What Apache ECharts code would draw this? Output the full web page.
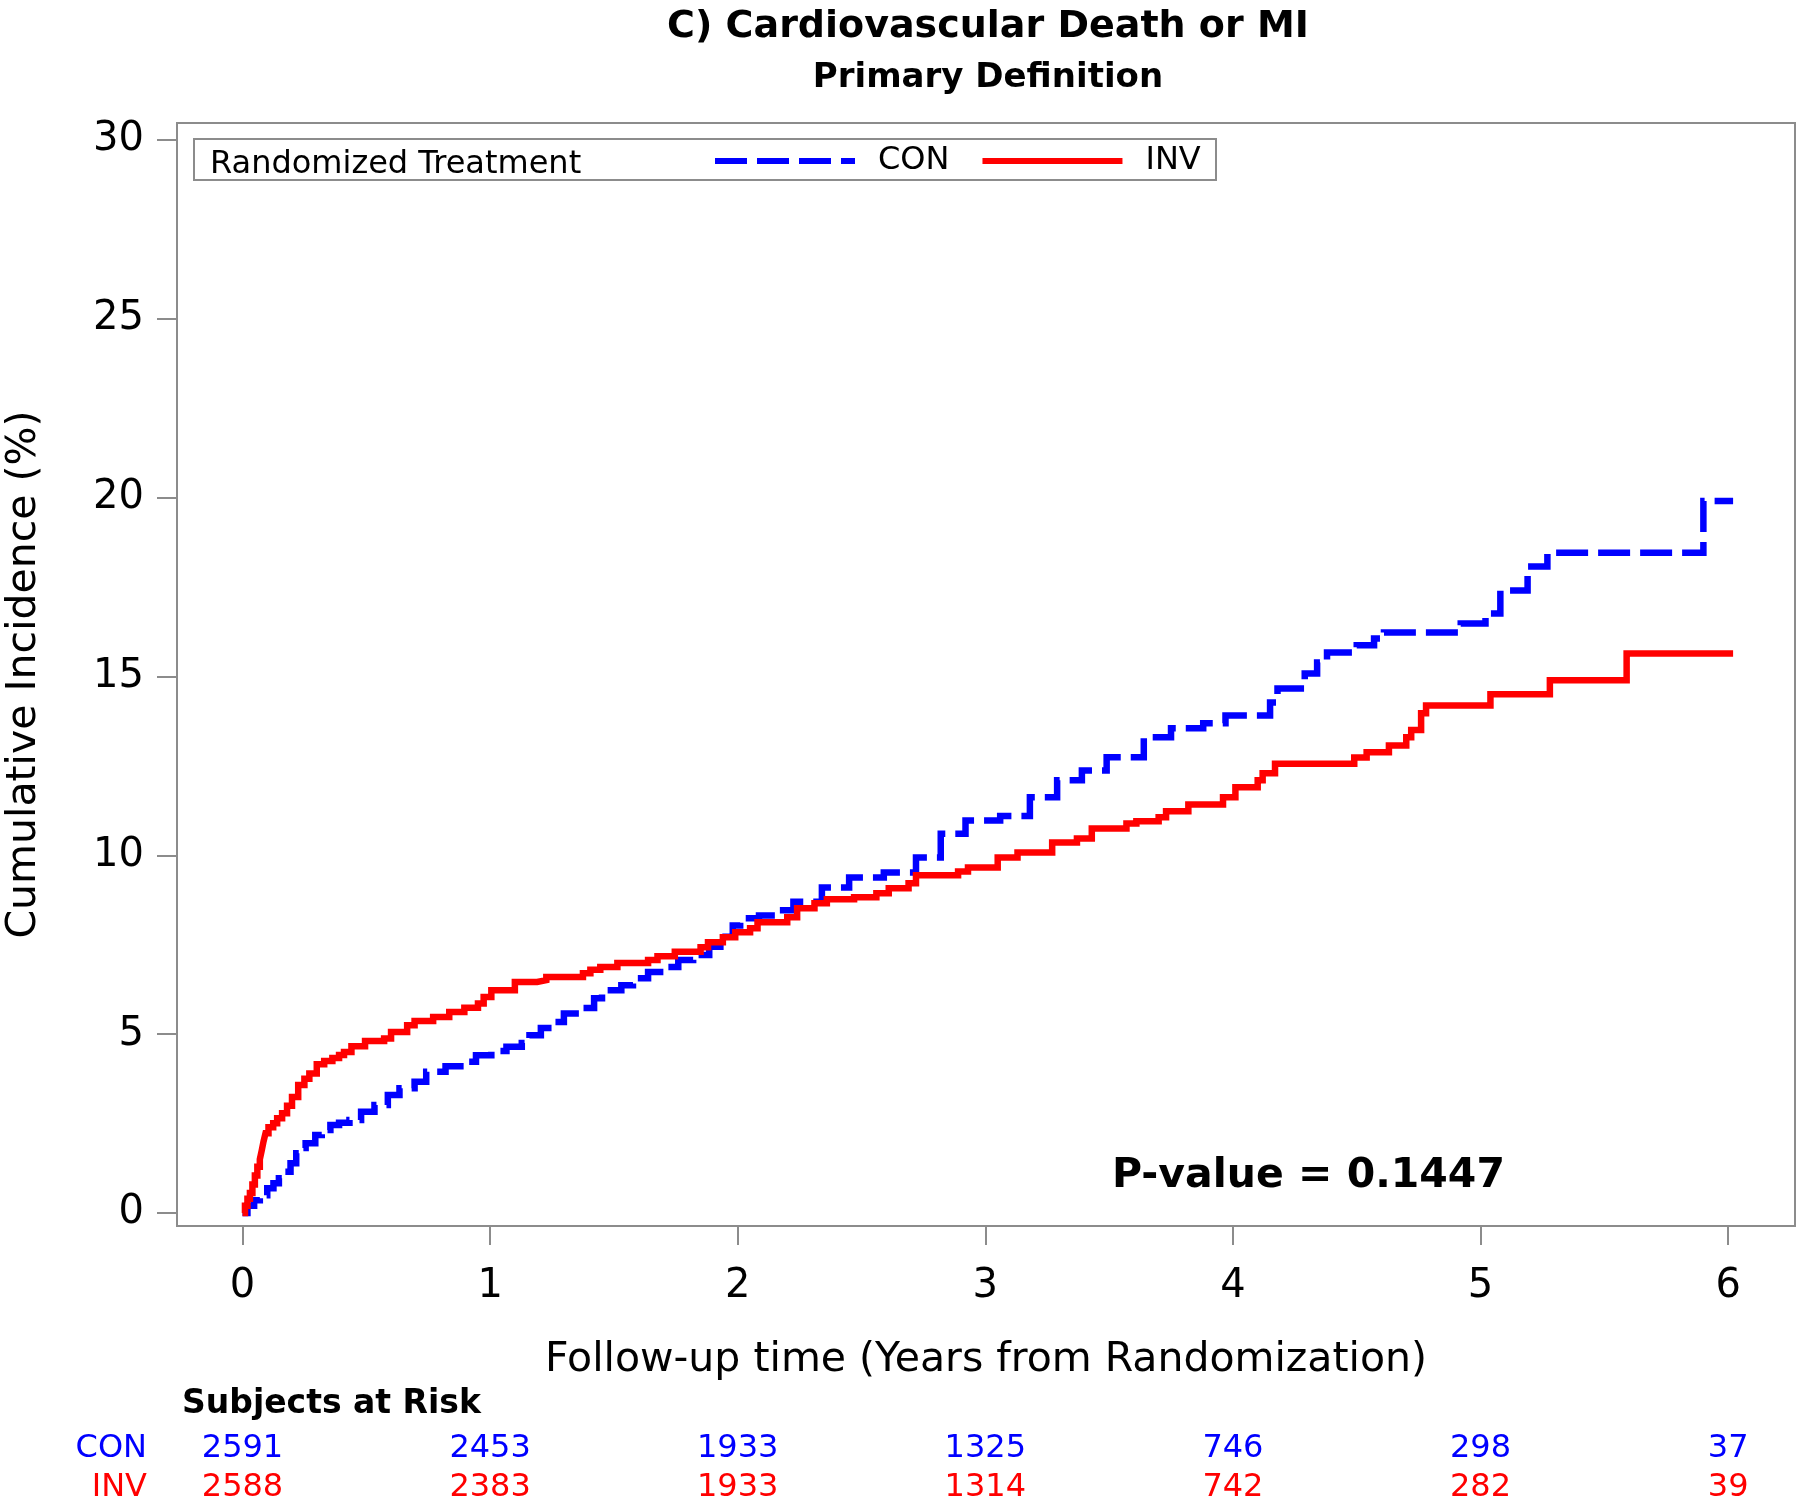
<!DOCTYPE html>
<html><head><meta charset="utf-8">
<script src="https://cdn.jsdelivr.net/npm/echarts@6/dist/echarts.min.js"></script>
<style>html,body{margin:0;padding:0;background:#fff}#c{width:1800px;height:1499px}</style>
</head><body><div id="c"></div>
<script>
const FONT = 'DejaVu Sans';
const BLUE = '#0000ff';
const RED = '#ff0000';
const GRAY = '#8c8c8c';

const xTicks = [0, 1, 2, 3, 4, 5, 6];
const yTicks = [0, 5, 10, 15, 20, 25, 30];
const groups = ['CON', 'INV'];

// CON (control) cumulative incidence, step function (time in years, %)
const conT = [0, 0.02, 0.047, 0.07, 0.10, 0.125, 0.147, 0.17, 0.194, 0.217, 0.235, 0.255, 0.294, 0.32, 0.355, 0.39, 0.432, 0.479, 0.533, 0.587, 0.634, 0.695, 0.742, 0.82, 0.88, 0.943, 1.005, 1.066, 1.128, 1.159, 1.205, 1.252, 1.298, 1.36, 1.42, 1.452, 1.53, 1.577, 1.638, 1.70, 1.76, 1.82, 1.885, 1.93, 1.98, 2.01, 2.086, 2.16, 2.225, 2.34, 2.45, 2.59, 2.72, 2.82, 2.92, 3.06, 3.18, 3.29, 3.39, 3.49, 3.64, 3.75, 3.88, 3.97, 4.15, 4.18, 4.29, 4.34, 4.38, 4.50, 4.57, 4.61, 4.92, 5.02, 5.08, 5.19, 5.27, 5.90, 6.02];
const conV = [0, 0.20, 0.36, 0.50, 0.69, 0.83, 0.97, 1.15, 1.39, 1.67, 1.82, 1.95, 2.18, 2.32, 2.46, 2.52, 2.60, 2.83, 3.02, 3.30, 3.49, 3.67, 3.95, 4.10, 4.23, 4.41, 4.53, 4.65, 4.75, 4.97, 5.17, 5.34, 5.58, 5.73, 6.00, 6.23, 6.37, 6.56, 6.74, 6.88, 7.07, 7.21, 7.44, 7.72, 8.04, 8.24, 8.32, 8.46, 8.70, 9.10, 9.38, 9.52, 9.94, 10.60, 10.97, 11.10, 11.62, 12.10, 12.37, 12.74, 13.30, 13.55, 13.69, 13.91, 14.27, 14.66, 15.08, 15.39, 15.67, 15.87, 16.06, 16.23, 16.48, 16.76, 17.40, 18.07, 18.46, 19.90, 19.90];

// INV (invasive) cumulative incidence
const invT = [0, 0.01, 0.02, 0.03, 0.04, 0.05, 0.06, 0.07, 0.078, 0.085, 0.093, 0.105, 0.124, 0.14, 0.16, 0.18, 0.2, 0.225, 0.25, 0.27, 0.30, 0.33, 0.363, 0.39, 0.41, 0.44, 0.495, 0.572, 0.60, 0.665, 0.695, 0.77, 0.835, 0.896, 0.951, 0.974, 1.005, 1.10, 1.19, 1.227, 1.375, 1.405, 1.445, 1.514, 1.638, 1.676, 1.746, 1.85, 1.88, 1.94, 1.99, 2.05, 2.08, 2.20, 2.24, 2.31, 2.36, 2.47, 2.56, 2.61, 2.69, 2.72, 2.89, 2.93, 3.05, 3.13, 3.27, 3.37, 3.43, 3.57, 3.61, 3.70, 3.73, 3.82, 3.96, 4.01, 4.10, 4.12, 4.17, 4.49, 4.54, 4.63, 4.70, 4.72, 4.76, 4.78, 5.04, 5.28, 5.59, 6.02];
const invV = [0, 0.20, 0.40, 0.56, 0.80, 1.05, 1.29, 1.50, 1.76, 2.00, 2.23, 2.40, 2.51, 2.65, 2.79, 3.00, 3.24, 3.58, 3.75, 3.90, 4.16, 4.25, 4.33, 4.42, 4.50, 4.66, 4.81, 4.88, 5.06, 5.25, 5.37, 5.48, 5.62, 5.74, 5.86, 6.04, 6.23, 6.46, 6.51, 6.60, 6.70, 6.80, 6.88, 6.99, 7.07, 7.18, 7.30, 7.43, 7.57, 7.71, 7.85, 7.96, 8.13, 8.27, 8.52, 8.66, 8.77, 8.83, 8.94, 9.08, 9.22, 9.44, 9.55, 9.66, 9.94, 10.08, 10.36, 10.47, 10.75, 10.89, 10.95, 11.06, 11.23, 11.42, 11.62, 11.90, 12.10, 12.29, 12.56, 12.73, 12.88, 13.07, 13.30, 13.50, 13.97, 14.19, 14.50, 14.89, 15.64, 15.64];

// Subjects at risk
const riskTimes = [0, 1, 2, 3, 4, 5, 6];
const riskCon = [2591, 2453, 1933, 1325, 746, 298, 37];
const riskInv = [2588, 2383, 1933, 1314, 742, 282, 39];

const chart = echarts.init(document.getElementById('c'), null, { renderer: 'canvas', width: 1800, height: 1499 });

const XMIN = -0.2645, XMAX = 6.27;
const YMIN = -0.363, YMAX = 30.47;

const option = {
  backgroundColor: '#ffffff',
  animation: false,
  textStyle: { fontFamily: FONT },
  title: {
    text: 'C) Cardiovascular Death or MI',
    subtext: 'Primary Definition',
    left: 988, top: 5, textAlign: 'center', itemGap: 9, padding: 0,
    textStyle: { fontFamily: FONT, fontSize: 38, fontWeight: 'bold', color: '#000', lineHeight: 44 },
    subtextStyle: { fontFamily: FONT, fontSize: 34, fontWeight: 'bold', color: '#000', lineHeight: 40 }
  },
  legend: {
    data: ['CON', 'INV'],
    left: 712, top: 145, orient: 'horizontal', padding: 0,
    itemWidth: 140, itemHeight: 40, itemGap: 30,
    selectedMode: false,
    textStyle: { fontFamily: FONT, fontSize: 32, color: '#000', padding: [0, 0, 0, 18] },
    lineStyle: { width: 6 },
    itemStyle: { color: 'rgba(0,0,0,0)', borderColor: 'rgba(0,0,0,0)', borderWidth: 0, opacity: 0 },
    z: 6
  },
  grid: [
    { left: 177, right: 5, top: 123, bottom: 273, show: true, borderColor: GRAY, borderWidth: 2, backgroundColor: 'transparent', containLabel: false, outerBoundsMode: 'none' },
    { left: 177, right: 5, top: 1429, height: 78, show: false, containLabel: false, outerBoundsMode: 'none' }
  ],
  xAxis: [
    {
      type: 'value', gridIndex: 0, min: XMIN, max: XMAX,
      name: 'Follow-up time (Years from Randomization)', nameLocation: 'middle', nameGap: 114,
      nameTextStyle: { fontFamily: FONT, fontSize: 41, color: '#000' },
      splitLine: { show: false },
      axisLine: { show: true, onZero: false, lineStyle: { color: GRAY, width: 2 } },
      axisTick: { show: true, customValues: xTicks, length: 19, lineStyle: { color: GRAY, width: 2 } },
      axisLabel: { show: true, customValues: xTicks, fontFamily: FONT, fontSize: 40, color: '#000', margin: 41 }
    },
    { type: 'value', gridIndex: 1, min: XMIN, max: XMAX, show: false }
  ],
  yAxis: [
    {
      type: 'value', gridIndex: 0, min: YMIN, max: YMAX,
      name: 'Cumulative Incidence (%)', nameLocation: 'middle', nameGap: 132,
      nameTextStyle: { fontFamily: FONT, fontSize: 41, color: '#000' },
      splitLine: { show: false },
      axisLine: { show: true, onZero: false, lineStyle: { color: GRAY, width: 2 } },
      axisTick: { show: true, customValues: yTicks, length: 20, lineStyle: { color: GRAY, width: 2 } },
      axisLabel: { show: true, customValues: yTicks, fontFamily: FONT, fontSize: 40, color: '#000', margin: 33 }
    },
    {
      type: 'category', gridIndex: 1, data: groups, inverse: true,
      axisLine: { show: false }, axisTick: { show: false }, splitLine: { show: false },
      axisLabel: { show: true, interval: 0, hideOverlap: false, margin: 30, fontFamily: FONT, fontSize: 32, color: (v) => (v === 'CON' ? BLUE : RED) }
    }
  ],
  graphic: [
    { type: 'rect', z: 3, shape: { x: 194, y: 139, width: 1022, height: 41 }, style: { fill: '#fff', stroke: GRAY, lineWidth: 2 } },
    { type: 'text', z: 5, x: 210, y: 165, style: { text: 'Randomized Treatment', fontFamily: FONT, fontSize: 32, fill: '#000', align: 'left', verticalAlign: 'middle', textAlign: 'left', textVerticalAlign: 'middle' } },
    { type: 'text', z: 5, x: 1112, y: 1176, style: { text: 'P-value = 0.1447', fontFamily: FONT, fontSize: 41, fontWeight: 'bold', fill: '#000', align: 'left', verticalAlign: 'middle', textAlign: 'left', textVerticalAlign: 'middle' } },
    { type: 'text', z: 5, x: 182, y: 1404, style: { text: 'Subjects at Risk', fontFamily: FONT, fontSize: 33, fontWeight: 'bold', fill: '#000', align: 'left', verticalAlign: 'middle', textAlign: 'left', textVerticalAlign: 'middle' } }
  ],
  series: [
    {
      name: 'CON', type: 'line', xAxisIndex: 0, yAxisIndex: 0,
      data: conT.map((t, i) => [t, conV[i]]),
      step: 'end', symbol: 'none', showSymbol: false, z: 3,
      lineStyle: { color: BLUE, width: 6.5, type: [32, 10], cap: 'butt', join: 'miter' },
      itemStyle: { color: BLUE }
    },
    {
      name: 'INV', type: 'line', xAxisIndex: 0, yAxisIndex: 0,
      data: invT.map((t, i) => [t, invV[i]]),
      step: 'end', symbol: 'none', showSymbol: false, z: 4,
      lineStyle: { color: RED, width: 6.5, type: 'solid', cap: 'butt', join: 'miter' },
      itemStyle: { color: RED }
    },
    {
      name: 'riskCON', type: 'scatter', xAxisIndex: 1, yAxisIndex: 1, silent: true,
      data: riskTimes.map((t, i) => [t, 'CON', riskCon[i]]),
      symbolSize: 1, itemStyle: { color: 'rgba(0,0,0,0)' },
      label: { show: true, position: 'inside', formatter: (p) => String(p.value[2]), fontFamily: FONT, fontSize: 32, color: BLUE, textBorderWidth: 0, opacity: 1 }
    },
    {
      name: 'riskINV', type: 'scatter', xAxisIndex: 1, yAxisIndex: 1, silent: true,
      data: riskTimes.map((t, i) => [t, 'INV', riskInv[i]]),
      symbolSize: 1, itemStyle: { color: 'rgba(0,0,0,0)' },
      label: { show: true, position: 'inside', formatter: (p) => String(p.value[2]), fontFamily: FONT, fontSize: 32, color: RED, textBorderWidth: 0, opacity: 1 }
    }
  ]
};
chart.setOption(option);
</script>
</body></html>
